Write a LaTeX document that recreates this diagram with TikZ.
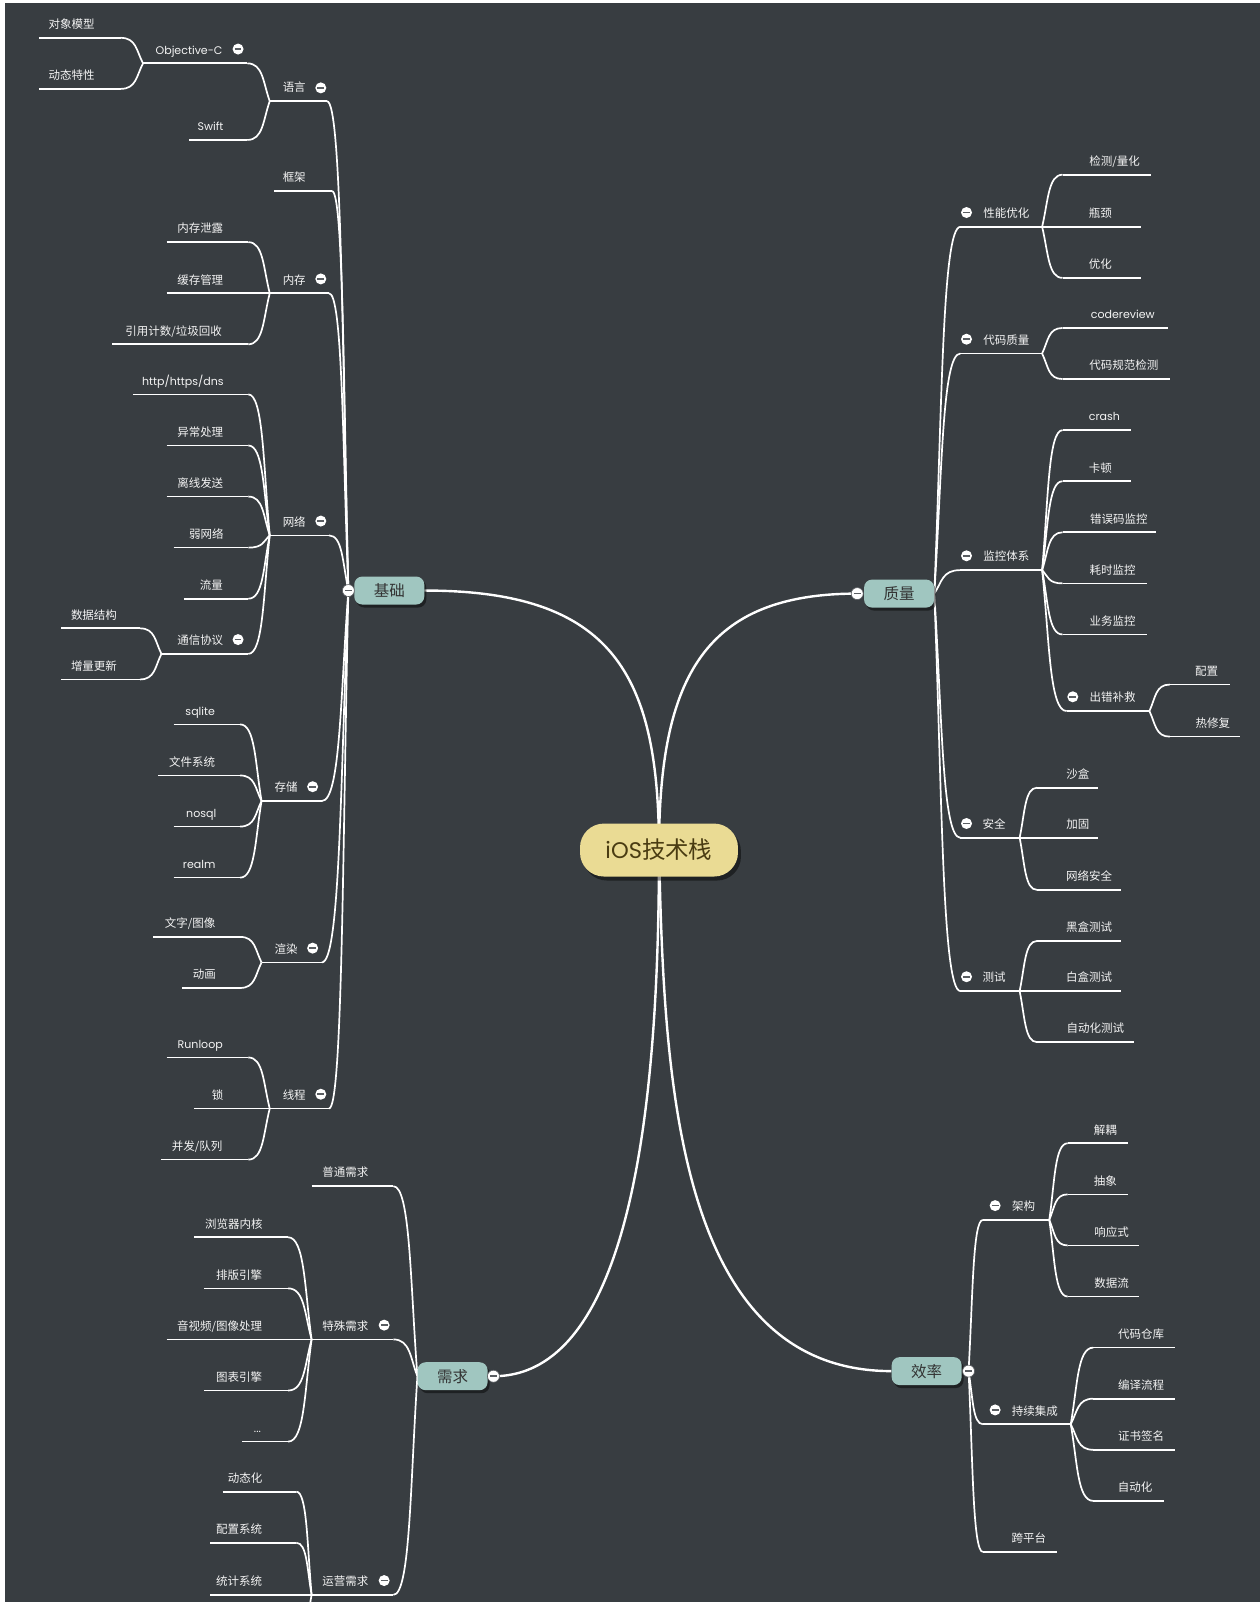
\documentclass[tikz,border=0pt]{standalone}
\usepackage{fontspec}
\setmainfont[Scale=0.96]{Poppins}
\newfontfamily\cjk{Noto Sans CJK SC}
\usetikzlibrary{calc,shadows}
\definecolor{bgc}{HTML}{383D41}
\definecolor{tealc}{HTML}{A0C6C0}
\definecolor{yellowc}{HTML}{EADB94}
\definecolor{roottext}{HTML}{4A3C12}
\definecolor{maintext}{HTML}{333333}
\definecolor{labelc}{HTML}{F4F4F4}
\definecolor{btnc}{HTML}{5A5E62}
\pgfdeclarelayer{bg}
\pgfsetlayers{bg,main}
\tikzset{
  uline/.style={draw=white, line width=1.7pt},
  cline/.style={draw=white, line width=1.7pt},
  mline/.style={draw=white, line width=2.4pt},
  lbl/.style={anchor=base, text=labelc, font=\cjk\fontsize{11.5}{13}\selectfont, inner sep=0pt},
  colbtn/.style={circle, fill=white, minimum size=11pt, inner sep=0pt,
    path picture={\draw[btnc, line width=1.6pt] ([xshift=-3.4pt]path picture bounding box.center) -- ([xshift=3.4pt]path picture bounding box.center);}},
  mainbtn/.style={colbtn, draw=btnc, line width=0.6pt, minimum size=12pt},
  mainn/.style={rectangle, rounded corners=8pt, fill=tealc, minimum width=70pt, minimum height=28pt, text=maintext,
    font=\cjk\fontsize{15.5}{18}\selectfont, drop shadow={shadow xshift=2pt, shadow yshift=-3pt, opacity=0.45, fill=black}},
  rootn/.style={rectangle, rounded corners=24pt, fill=yellowc, minimum width=158pt, minimum height=53pt, text=roottext,
    font=\fontsize{23.5}{27}\selectfont, drop shadow={shadow xshift=3pt, shadow yshift=-4pt, opacity=0.45, fill=black}},
}
\newcommand\tp[6]{%
  \coordinate (#1-l) at (#2,#4);
  \coordinate (#1-r) at (#3,#4);
  \draw[uline] (#1-l) -- (#1-r);
  \node[lbl] (#1) at (#5,#4-9) {#6};}
\newcommand\btn[3]{\node[colbtn] (#1) at (#2,#3) {};}
\newcommand\conn[2]{\draw[cline] let \p1=(#1), \p2=(#2) in (\p1) .. controls ({\x1+0.7*(\x2-\x1)},\y1) and ({\x1+0.7*(\x2-\x1)},{0.5*(\y1+\y2)}) .. (\p2);}
\begin{document}
\begin{tikzpicture}[x=1.0219pt,y=-1.0219pt]
\useasboundingbox (0,0) rectangle (1233,1568);
\begin{pgfonlayer}{bg}
\fill[white] (0,0) rectangle (1233,1568);
\fill[bgc] (4.9,2.9) rectangle (1233,1568);
\end{pgfonlayer}

% ---------- main nodes ----------
\node[rootn] (root) at (645,832) {iOS{\cjk 技术栈}};
\node[mainn] (jichu) at (381,578) {基础};
\node[mainn] (zhiliang) at (880,581) {质量};
\node[mainn] (xuqiu) at (443,1347) {需求};
\node[mainn] (xiaolv) at (907,1342) {效率};
\node[mainbtn] (jcb) at (341,578) {};
\node[mainbtn] (zlb) at (839,581) {};
\node[mainbtn] (xqb) at (483,1347) {};
\node[mainbtn] (xlb) at (948,1342) {};

% ---------- 基础 ----------
\tp{dxmx}{38}{118}{37}{70}{对象模型}
\tp{dttx}{38}{118}{87}{70}{动态特性}
\tp{objc}{140}{242}{62}{185}{\rmfamily Objective-C}
\tp{swift}{185}{242}{137}{206}{\rmfamily Swift}
\tp{yy}{264}{320}{99}{288}{语言}
\tp{kj}{268}{325}{187}{288}{框架}
\tp{ncxl}{163}{243}{237}{196}{内存泄露}
\tp{hcgl}{163}{264}{287}{196}{缓存管理}
\tp{nc}{264}{322}{287}{288}{内存}
\tp{yyjs}{110}{243}{337}{170}{引用计数/垃圾回收}
\tp{http}{130}{243}{386}{179}{\rmfamily http/https/dns}
\tp{yccl}{163}{243}{436}{196}{异常处理}
\tp{lxfs}{163}{243}{486}{196}{离线发送}
\tp{rwl}{170}{243}{536}{202}{弱网络}
\tp{wl}{264}{322}{524}{288}{网络}
\tp{ll}{180}{243}{586}{207}{流量}
\tp{sjjg}{60}{137}{615}{92}{数据结构}
\tp{zlgx}{60}{137}{665}{92}{增量更新}
\tp{txxy}{158}{243}{640}{196}{通信协议}
\tp{sqlite}{170}{235}{709}{196}{\rmfamily sqlite}
\tp{wjxt}{155}{235}{759}{188}{文件系统}
\tp{cc}{256}{315}{784}{280}{存储}
\tp{nosql}{170}{235}{809}{197}{\rmfamily nosql}
\tp{realm}{170}{235}{859}{195}{\rmfamily realm}
\tp{wzty}{150}{235}{917}{186}{文字/图像}
\tp{dh}{178}{235}{967}{200}{动画}
\tp{xr}{256}{315}{942}{280}{渲染}
\tp{runloop}{163}{243}{1035}{196}{\rmfamily Runloop}
\tp{suo}{190}{264}{1085}{213}{锁}
\tp{xc}{264}{322}{1085}{288}{线程}
\tp{bfdl}{158}{243}{1135}{193}{并发/队列}
\btn{objcb}{233}{48}
\btn{yyb}{314}{86}
\btn{ncb}{314}{273}
\btn{wlb}{314}{510}
\btn{txxyb}{233}{626}
\btn{ccb}{306}{770}
\btn{xrb}{306}{928}
\btn{xcb}{314}{1071}

% ---------- 质量 ----------
\tp{xnyh}{940}{1020}{222}{985}{性能优化}
\tp{jclh}{1040}{1127}{171}{1091}{检测/量化}
\tp{pj}{1020}{1117}{222}{1077}{瓶颈}
\tp{yh}{1040}{1117}{272}{1077}{优化}
\tp{dmzl}{940}{1020}{346}{985}{代码质量}
\tp{cr}{1040}{1143}{321}{1099}{\rmfamily codereview}
\tp{dmgf}{1040}{1145}{371}{1100}{代码规范检测}
\tp{jktx}{940}{1020}{558}{985}{监控体系}
\tp{crash}{1040}{1107}{421}{1081}{\rmfamily crash}
\tp{kd}{1040}{1107}{471}{1077}{卡顿}
\tp{cwm}{1040}{1131}{521}{1095}{错误码监控}
\tp{hs}{1040}{1123}{571}{1089}{耗时监控}
\tp{yw}{1040}{1123}{621}{1089}{业务监控}
\tp{ccbj}{1044}{1125}{696}{1089}{出错补救}
\tp{pz}{1145}{1204}{670}{1181}{配置}
\tp{rxf}{1145}{1214}{721}{1187}{热修复}
\tp{aq}{940}{998}{820}{973}{安全}
\tp{sh}{1015}{1075}{771}{1055}{沙盒}
\tp{jg}{998}{1075}{820}{1055}{加固}
\tp{wlaq}{1015}{1097}{871}{1066}{网络安全}
\tp{cs}{940}{998}{970}{973}{测试}
\tp{hh}{1015}{1097}{921}{1066}{黑盒测试}
\tp{bh}{998}{1097}{970}{1066}{白盒测试}
\tp{zdhcs}{1015}{1110}{1020}{1072}{自动化测试}
\btn{xnyhb}{946}{208}
\btn{dmzlb}{946}{332}
\btn{jktxb}{946}{544}
\btn{ccbjb}{1050}{682}
\btn{aqb}{946}{806}
\btn{csb}{946}{956}

% ---------- 效率 ----------
\tp{jiag}{962}{1027}{1194}{1002}{架构}
\tp{jo}{1045}{1104}{1119}{1082}{解耦}
\tp{cx}{1045}{1104}{1169}{1082}{抽象}
\tp{xys}{1045}{1115}{1219}{1088}{响应式}
\tp{sjl}{1045}{1115}{1269}{1088}{数据流}
\tp{cxjc}{962}{1048}{1394}{1013}{持续集成}
\tp{dmck}{1070}{1150}{1319}{1117}{代码仓库}
\tp{bylc}{1070}{1150}{1369}{1117}{编译流程}
\tp{zsqm}{1070}{1150}{1419}{1117}{证书签名}
\tp{zdh}{1070}{1139}{1469}{1111}{自动化}
\tp{kpt}{962}{1035}{1519}{1007}{跨平台}
\btn{jiagb}{974}{1180}
\btn{cxjcb}{974}{1380}

% ---------- 需求 ----------
\tp{ptxq}{305}{385}{1161}{338}{普通需求}
\tp{tsxq}{305}{385}{1311}{338}{特殊需求}
\tp{llq}{190}{282}{1211}{229}{浏览器内核}
\tp{pbyq}{200}{282}{1261}{234}{排版引擎}
\tp{ysp}{163}{305}{1311}{215}{音视频/图像处理}
\tp{tbyq}{200}{282}{1361}{234}{图表引擎}
\tp{dots}{237}{282}{1411}{252}{\rmfamily ...}
\tp{yyxq}{305}{385}{1561}{338}{运营需求}
\tp{dtx}{218}{290}{1460}{240}{动态化}
\tp{pzxt}{206}{290}{1510}{234}{配置系统}
\tp{tjxt}{206}{305}{1561}{234}{统计系统}
\coordinate (more) at (288,1614);
\btn{tsxqb}{376}{1297}
\btn{yyxqb}{376}{1547}

% ---------- connectors ----------
\begin{pgfonlayer}{bg}
\draw[mline] (jichu.east) .. controls (600,578) and (645,660) .. (root.center);
\draw[mline] (zlb.center) .. controls (690,581) and (645,662) .. (root.center);
\draw[mline] (root.center) .. controls (645,1050) and (625,1347) .. (xqb.center);
\draw[mline] (root.center) .. controls (650,1050) and (660,1342) .. (xiaolv.west);
% 基础
\conn{dxmx-r}{objc-l}
\conn{dttx-r}{objc-l}
\conn{objc-r}{yy-l}
\conn{swift-r}{yy-l}
\conn{yy-r}{jcb.center}
\conn{kj-r}{jcb.center}
\conn{ncxl-r}{nc-l}
\conn{yyjs-r}{nc-l}
\conn{nc-r}{jcb.center}
\conn{http-r}{wl-l}
\conn{yccl-r}{wl-l}
\conn{lxfs-r}{wl-l}
\conn{rwl-r}{wl-l}
\conn{ll-r}{wl-l}
\conn{txxy-r}{wl-l}
\conn{sjjg-r}{txxy-l}
\conn{zlgx-r}{txxy-l}
\conn{wl-r}{jcb.center}
\conn{sqlite-r}{cc-l}
\conn{wjxt-r}{cc-l}
\conn{nosql-r}{cc-l}
\conn{realm-r}{cc-l}
\conn{cc-r}{jcb.center}
\conn{wzty-r}{xr-l}
\conn{dh-r}{xr-l}
\conn{xr-r}{jcb.center}
\conn{runloop-r}{xc-l}
\conn{bfdl-r}{xc-l}
\conn{xc-r}{jcb.center}
% 质量
\conn{xnyh-l}{zhiliang.east}
\conn{dmzl-l}{zhiliang.east}
\conn{jktx-l}{zhiliang.east}
\conn{aq-l}{zhiliang.east}
\conn{cs-l}{zhiliang.east}
\conn{jclh-l}{xnyh-r}
\conn{yh-l}{xnyh-r}
\conn{cr-l}{dmzl-r}
\conn{dmgf-l}{dmzl-r}
\conn{crash-l}{jktx-r}
\conn{kd-l}{jktx-r}
\conn{cwm-l}{jktx-r}
\conn{hs-l}{jktx-r}
\conn{yw-l}{jktx-r}
\conn{ccbj-l}{jktx-r}
\conn{pz-l}{ccbj-r}
\conn{rxf-l}{ccbj-r}
\conn{sh-l}{aq-r}
\conn{wlaq-l}{aq-r}
\conn{hh-l}{cs-r}
\conn{zdhcs-l}{cs-r}
% 效率
\conn{jiag-l}{xlb.center}
\conn{cxjc-l}{xlb.center}
\conn{kpt-l}{xlb.center}
\conn{jo-l}{jiag-r}
\conn{cx-l}{jiag-r}
\conn{xys-l}{jiag-r}
\conn{sjl-l}{jiag-r}
\conn{dmck-l}{cxjc-r}
\conn{bylc-l}{cxjc-r}
\conn{zsqm-l}{cxjc-r}
\conn{zdh-l}{cxjc-r}
% 需求
\conn{ptxq-r}{xuqiu.west}
\conn{tsxq-r}{xuqiu.west}
\conn{yyxq-r}{xuqiu.west}
\conn{llq-r}{tsxq-l}
\conn{pbyq-r}{tsxq-l}
\conn{tbyq-r}{tsxq-l}
\conn{dots-r}{tsxq-l}
\conn{dtx-r}{yyxq-l}
\conn{pzxt-r}{yyxq-l}
\conn{more}{yyxq-l}
\end{pgfonlayer}
\end{tikzpicture}
\end{document}
